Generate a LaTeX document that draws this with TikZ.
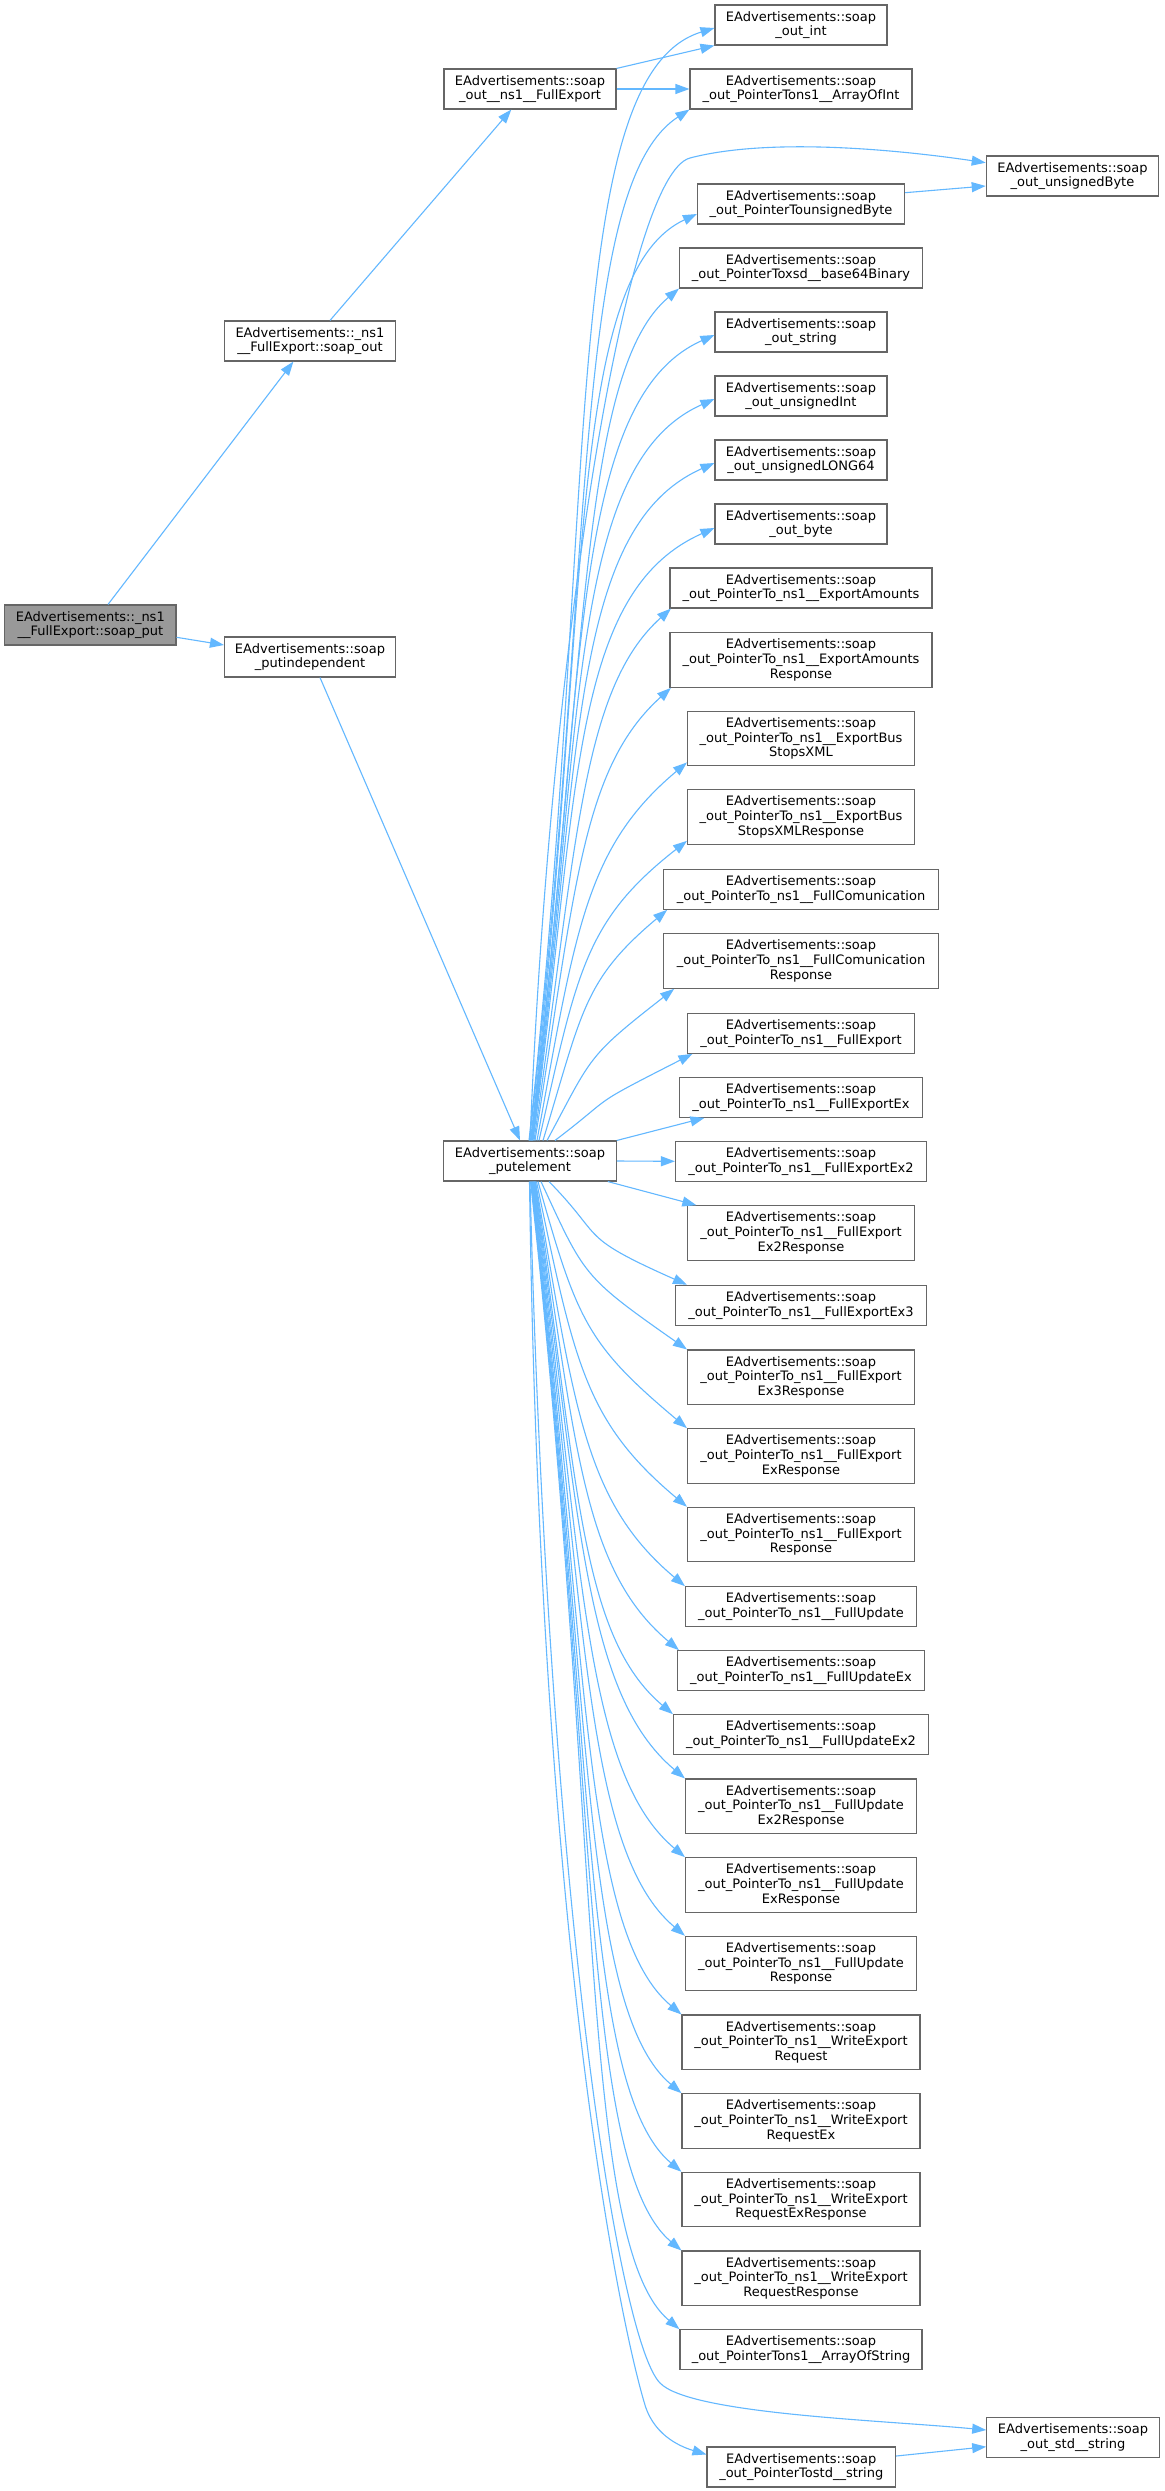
\documentclass[tikz,border=0pt]{standalone}
\usepackage{fontspec}
\setmainfont{DejaVu Sans}
\usetikzlibrary{arrows.meta}
\definecolor{edgeblue}{HTML}{63B8FF}
\definecolor{boxgray}{HTML}{666666}
\definecolor{hlgray}{HTML}{999999}
\newcommand\EAs{EAdvertisements::soap}
\newcommand\PT{\_out\_PointerTo\_ns1\_\_}
\tikzset{
  box/.style={draw=boxgray, fill=white, line width=1.1pt, inner sep=0pt, align=center,
    font=\fontsize{13pt}{14.67pt}\selectfont, text=black},
  two/.style={minimum height=40pt},
  three/.style={minimum height=54.6pt},
  edge/.style={draw=edgeblue, line width=1.1pt, -{Triangle[length=14pt,width=10pt]}},
}
% fan edge: #1 start, #2 end, #3 arrival angle, #4 = 1 (upwards) or -1 (downwards)
\newcommand\fanedge[4]{%
  \path #1 coordinate (fanA) #2 coordinate (fanB);%
  \pgfpointanchor{fanA}{center}\pgfgetlastxy{\fanax}{\fanay}%
  \pgfpointanchor{fanB}{center}\pgfgetlastxy{\fanbx}{\fanby}%
  \pgfmathsetmacro\fanAX{\fanax}%
  \pgfmathsetmacro\fanAY{\fanay}%
  \pgfmathsetmacro\fanBX{\fanbx}%
  \pgfmathsetmacro\fanBY{\fanby}%
  \pgfmathsetmacro\fanH{abs(\fanBY-(\fanAY))}%
  \pgfmathsetmacro\fanso{0.1+(96.3/\fanH)^1.82}%
  \pgfmathsetmacro\fand{0.56*\fanH}%
  \pgfmathsetmacro\fanw{\fanBX-(\fanAX)}%
  \pgfmathsetmacro\fane{0.88*\fanw}%
  \pgfmathsetmacro\fancax{\fanAX+\fanso*\fand}%
  \pgfmathsetmacro\fancay{\fanAY+(#4)*\fand}%
  \pgfmathsetmacro\fancbx{\fanBX-\fane*cos(#3)}%
  \pgfmathsetmacro\fancby{\fanBY-(#4)*\fane*sin(#3)}%
  \draw[edge] #1 .. controls (\fancax pt,\fancay pt) and (\fancbx pt,\fancby pt) .. #2;%
}
\begin{document}
\begin{tikzpicture}[x=1pt,y=-1pt]
\useasboundingbox[fill=white] (0,0) rectangle (1164,2491);
% left part
\node[box,two,fill=hlgray,minimum width=171.4pt] (put) at (90.3,625) {EAdvertisements::\_ns1\\\_\_FullExport::soap\_put};
\node[box,two,minimum width=171pt] (so) at (310,341) {EAdvertisements::\_ns1\\\_\_FullExport::soap\_out};
\node[box,two,minimum width=171pt] (pi) at (310,657) {\EAs\\\_putindependent};
\node[box,two,minimum width=172pt] (fe) at (530,89) {\EAs\\\_out\_\_ns1\_\_FullExport};
\node[box,two,minimum width=172.5pt] (pe) at (530,1161) {\EAs\\\_putelement};
% right column
\node[box,two,minimum width=172pt] (int) at (801,25) {\EAs\\\_out\_int};
\node[box,two,minimum width=222pt] (aoi) at (801,89) {\EAs\\\_out\_PointerTons1\_\_ArrayOfInt};
\node[box,two,minimum width=172.5pt] (ub) at (1072.5,176) {\EAs\\\_out\_unsignedByte};
\node[box,two,minimum width=207pt] (pub) at (801,204) {\EAs\\\_out\_PointerTounsignedByte};
\node[box,two,minimum width=243pt] (b64) at (801,268) {\EAs\\\_out\_PointerToxsd\_\_base64Binary};
\node[box,two,minimum width=172pt] (str) at (801,332) {\EAs\\\_out\_string};
\node[box,two,minimum width=172pt] (uint) at (801,396) {\EAs\\\_out\_unsignedInt};
\node[box,two,minimum width=172pt] (l64) at (801,460) {\EAs\\\_out\_unsignedLONG64};
\node[box,two,minimum width=172pt] (byte) at (801,524) {\EAs\\\_out\_byte};
\node[box,two,minimum width=262pt] (ea) at (801,588) {\EAs\\\PT ExportAmounts};
\node[box,three,minimum width=262pt] (ear) at (801,660) {\EAs\\\PT ExportAmounts\\Response};
\node[box,three,minimum width=227pt] (bs) at (801,738.6) {\EAs\\\PT ExportBus\\StopsXML};
\node[box,three,minimum width=227pt] (bsr) at (801,817) {\EAs\\\PT ExportBus\\StopsXMLResponse};
\node[box,two,minimum width=274.6pt] (fc) at (801,889.3) {\EAs\\\PT FullComunication};
\node[box,three,minimum width=274.6pt] (fcr) at (801,961) {\EAs\\\PT FullComunication\\Response};
\node[box,two,minimum width=227pt] (fx) at (801,1033.3) {\EAs\\\PT FullExport};
\node[box,two,minimum width=243pt] (fxe) at (801,1097.3) {\EAs\\\PT FullExportEx};
\node[box,two,minimum width=251pt] (fxe2) at (801,1161.3) {\EAs\\\PT FullExportEx2};
\node[box,three,minimum width=227pt] (fxe2r) at (801,1233) {\EAs\\\PT FullExport\\Ex2Response};
\node[box,two,minimum width=251pt] (fxe3) at (801,1305.3) {\EAs\\\PT FullExportEx3};
\node[box,three,minimum width=227pt] (fxe3r) at (801,1377.3) {\EAs\\\PT FullExport\\Ex3Response};
\node[box,three,minimum width=227pt] (fxer) at (801,1456) {\EAs\\\PT FullExport\\ExResponse};
\node[box,three,minimum width=227pt] (fxr) at (801,1534.6) {\EAs\\\PT FullExport\\Response};
\node[box,two,minimum width=231pt] (fu) at (801,1606.7) {\EAs\\\PT FullUpdate};
\node[box,two,minimum width=247pt] (fue) at (801,1670.7) {\EAs\\\PT FullUpdateEx};
\node[box,two,minimum width=255pt] (fue2) at (801,1734.7) {\EAs\\\PT FullUpdateEx2};
\node[box,three,minimum width=231pt] (fue2r) at (801,1806.3) {\EAs\\\PT FullUpdate\\Ex2Response};
\node[box,three,minimum width=231pt] (fuer) at (801,1885) {\EAs\\\PT FullUpdate\\ExResponse};
\node[box,three,minimum width=231pt] (fur) at (801,1963.6) {\EAs\\\PT FullUpdate\\Response};
\node[box,three,minimum width=238pt] (wer) at (801,2042.3) {\EAs\\\PT WriteExport\\Request};
\node[box,three,minimum width=238pt] (were) at (801,2121) {\EAs\\\PT WriteExport\\RequestEx};
\node[box,three,minimum width=238pt] (werer) at (801,2199.6) {\EAs\\\PT WriteExport\\RequestExResponse};
\node[box,three,minimum width=238pt] (werr) at (801,2278.3) {\EAs\\\PT WriteExport\\RequestResponse};
\node[box,two,minimum width=242pt] (aos) at (801,2349.7) {\EAs\\\_out\_PointerTons1\_\_ArrayOfString};
\node[box,two,minimum width=172.5pt] (std) at (1073,2437.5) {\EAs\\\_out\_std\_\_string};
\node[box,two,minimum width=188.6pt] (pstd) at (801.3,2467) {\EAs\\\_out\_PointerTostd\_\_string};
% straight edges
\draw[edge] ([xshift=17.7pt]put.north) -- ([xshift=-16.6pt]so.south);
\draw[edge] ([yshift=-12.3pt]put.east) -- ([yshift=12pt]pi.west);
\draw[edge] ([xshift=10pt]pi.south) -- ([xshift=-10pt]pe.north);
\draw[edge] ([xshift=20pt]so.north) -- ([xshift=-18.7pt]fe.south);
\draw[edge] (fe.north east) -- (int.south west);
\draw[edge] (fe.east) -- (aoi.west);
\draw[edge] ([yshift=11.3pt]pub.east) -- ([yshift=-10pt]ub.west);
\draw[edge] ([yshift=11pt]pstd.east) -- ([yshift=-9.2pt]std.west);
\draw[edge] (pe.north east) -- ([xshift=25.5pt]fxe.south west);
\draw[edge] (pe.east) -- (fxe2.west);
\draw[edge] ([xshift=-9pt]pe.south east) -- ([xshift=9.4pt]fxe2r.north west);
% upward fan
\fanedge{([xshift=-1pt]pe.north)}{([yshift=-3pt]int.west)}{17}{1}
\fanedge{([xshift=-0.5pt]pe.north)}{(aoi.south west)}{33}{1}
\draw[edge] (pe.north) .. controls (550,650) and (625,175) .. (690,158) .. controls (770,137) and (900,150) .. ([yshift=13.3pt]ub.west);
\fanedge{([xshift=0.5pt]pe.north)}{([yshift=-10pt]pub.west)}{25}{1}
\fanedge{([xshift=1pt]pe.north)}{(b64.south west)}{40}{1}
\fanedge{([xshift=1.5pt]pe.north)}{([yshift=-3pt]str.west)}{24}{1}
\fanedge{([xshift=2pt]pe.north)}{([yshift=-3pt]uint.west)}{24}{1}
\fanedge{([xshift=2.5pt]pe.north)}{([yshift=-3pt]l64.west)}{24}{1}
\fanedge{([xshift=3pt]pe.north)}{([yshift=-4pt]byte.west)}{24}{1}
\fanedge{([xshift=4pt]pe.north)}{([xshift=1.5pt]ea.south west)}{42}{1}
\fanedge{([xshift=5pt]pe.north)}{([xshift=1.5pt]ear.south west)}{42}{1}
\fanedge{([xshift=7pt]pe.north)}{([yshift=4pt]bs.south west)}{40}{1}
\fanedge{([xshift=9pt]pe.north)}{([yshift=4pt]bsr.south west)}{38}{1}
\fanedge{([xshift=13pt]pe.north)}{([xshift=4pt]fc.south west)}{40}{1}
\fanedge{([xshift=17pt]pe.north)}{([xshift=11pt]fcr.south west)}{38}{1}
\fanedge{([xshift=25pt]pe.north)}{([xshift=5.5pt]fx.south west)}{27}{1}
% downward fan
\fanedge{([xshift=19pt]pe.south)}{([xshift=12pt]fxe3.north west)}{24}{-1}
\fanedge{([xshift=11pt]pe.south)}{(fxe3r.north west)}{35}{-1}
\fanedge{([xshift=8pt]pe.south)}{(fxer.north west)}{40}{-1}
\fanedge{([xshift=6.5pt]pe.south)}{(fxr.north west)}{40}{-1}
\fanedge{([xshift=5.5pt]pe.south)}{(fu.north west)}{40}{-1}
\fanedge{([xshift=5pt]pe.south)}{([xshift=2pt]fue.north west)}{40}{-1}
\fanedge{([xshift=4.5pt]pe.south)}{(fue2.north west)}{40}{-1}
\fanedge{([xshift=4pt]pe.south)}{(fue2r.north west)}{40}{-1}
\fanedge{([xshift=3.5pt]pe.south)}{(fuer.north west)}{40}{-1}
\fanedge{([xshift=3pt]pe.south)}{(fur.north west)}{40}{-1}
\fanedge{([xshift=2.5pt]pe.south)}{(wer.north west)}{40}{-1}
\fanedge{([xshift=2pt]pe.south)}{(were.north west)}{40}{-1}
\fanedge{([xshift=1.5pt]pe.south)}{(werer.north west)}{40}{-1}
\fanedge{([xshift=1pt]pe.south)}{(werr.north west)}{40}{-1}
\fanedge{([xshift=0.5pt]pe.south)}{(aos.north west)}{40}{-1}
\draw[edge] (pe.south) .. controls (548,1900) and (618,2340) .. (660,2383) .. controls (690,2414) and (880,2420) .. ([yshift=7.5pt]std.west);
\draw[edge] ([xshift=-0.5pt]pe.south) .. controls (540,1950) and (622,2330) .. (645,2405) .. controls (655,2438) and (685,2448) .. ([yshift=-8pt]pstd.north west);
\end{tikzpicture}
\end{document}
